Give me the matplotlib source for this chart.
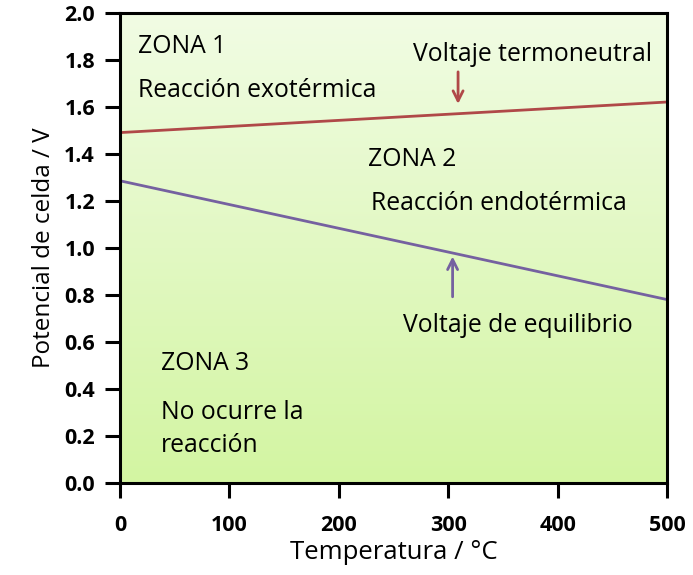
import numpy as np
import matplotlib
matplotlib.use("Agg")
import matplotlib.pyplot as plt

plt.rcParams['font.family'] = ['Open Sans', 'DejaVu Sans']

# data
temp = [0, 500]
v_termoneutral = [1.49, 1.62]
v_equilibrio = [1.285, 0.78]
x_ticks = [0, 100, 200, 300, 400, 500]
y_ticks = [0.0, 0.2, 0.4, 0.6, 0.8, 1.0, 1.2, 1.4, 1.6, 1.8, 2.0]

red = '#b04848'
purple = '#7561a0'

fig = plt.figure(figsize=(6.93, 5.75), dpi=100)
ax = fig.add_axes([0.1732, 0.16, 0.7893, 0.818])

# green gradient background
grad = np.linspace(0, 1, 256).reshape(-1, 1)
cmap = matplotlib.colors.LinearSegmentedColormap.from_list('g', ['#d3f5a2', '#f1fce4'])
ax.imshow(grad, cmap=cmap, origin='lower', extent=[0, 500, 0, 2.0],
          aspect='auto', zorder=0)

ax.plot(temp, v_termoneutral, color=red, lw=2, zorder=2)
ax.plot(temp, v_equilibrio, color=purple, lw=2, zorder=2)

ax.annotate('', xy=(309, 1.60), xytext=(309, 1.76),
            arrowprops=dict(arrowstyle='->', color=red, lw=2, mutation_scale=18))
ax.annotate('', xy=(304, 0.975), xytext=(304, 0.78),
            arrowprops=dict(arrowstyle='->', color=purple, lw=2, mutation_scale=18))

fs = 17.8
ax.text(16, 1.855, 'ZONA 1', fontsize=fs, va='center')
ax.text(16, 1.67, 'Reacción exotérmica', fontsize=fs, va='center')
ax.text(268, 1.82, 'Voltaje termoneutral', fontsize=fs, va='center')
ax.text(227, 1.375, 'ZONA 2', fontsize=fs, va='center')
ax.text(229, 1.19, 'Reacción endotérmica', fontsize=fs, va='center')
ax.text(259, 0.668, 'Voltaje de equilibrio', fontsize=fs, va='center')
ax.text(37, 0.51, 'ZONA 3', fontsize=fs, va='center')
ax.text(37, 0.30, 'No ocurre la', fontsize=fs, va='center')
ax.text(37, 0.16, 'reacción', fontsize=fs, va='center')

ax.set_xlim(0, 500)
ax.set_ylim(0, 2.0)
ax.set_xticks(x_ticks)
ax.set_yticks(y_ticks)
ax.set_yticklabels([f'{v:.1f}' for v in y_ticks])
ax.tick_params(direction='out', length=11, width=2.2, labelsize=15.5, pad=7)
ax.tick_params(axis='x', pad=12)
for lab in ax.get_xticklabels() + ax.get_yticklabels():
    lab.set_fontweight('bold')
for s in ax.spines.values():
    s.set_linewidth(2.2)

ax.set_xlabel('Temperatura / °C', fontsize=18.5, labelpad=3)
ax.set_ylabel('Potencial de celda / V', fontsize=17.5, labelpad=6)

fig.savefig('out.png', dpi=100)
